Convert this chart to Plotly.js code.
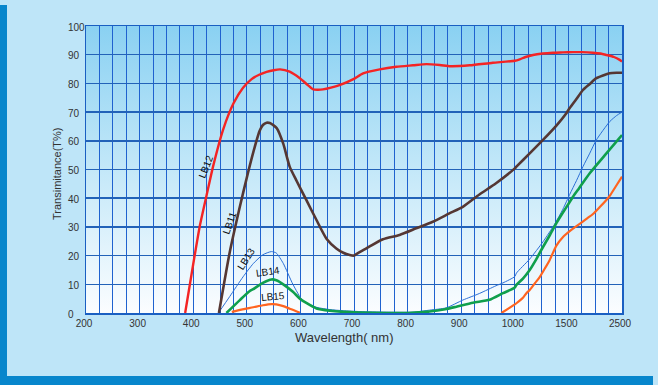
<!DOCTYPE html>
<html><head><meta charset="utf-8">
<script src="https://cdn.plot.ly/plotly-3.0.1.min.js"></script>
<style>
html,body{margin:0;padding:0;background:#bee5f8;overflow:hidden}
#wrap{position:relative;width:658px;height:385px;background:#bee5f8}
#lbar{position:absolute;left:0;top:5px;width:7px;height:380px;background:#0786cc}
#bbar{position:absolute;left:0;top:376px;width:653px;height:9px;background:#0786cc}
#grad{position:absolute;left:86px;top:26px;width:536px;height:287px;background:linear-gradient(#8ad1f2,#c9eaf9 55%,#fbfdff)}
#chart{position:absolute;left:0;top:0;width:658px;height:385px}
</style></head>
<body><div id="wrap"><div id="lbar"></div><div id="bbar"></div><div id="grad"></div><div id="chart"></div></div>
<script>
// Tick labels of the (piecewise) wavelength axis
const xTickLabels = [200,300,400,500,600,700,800,900,1000,1500,2500];
const yTicks = [0,10,20,30,40,50,60,70,80,90,100];

// LB12 (red)
const lb12W = [385,400,412,425,437,456,475,493,509,523,537,550,562,580,599,614,624,633,642,657,673,698,717,748,779,810,835,860,880,916,959,1000,1046,1100,1170,1260,1356,1450,1586,1750,1959,2100,2209,2350,2457,2500];
const lb12T = [0,17,30,41,51,64,73,78.5,81.5,83,84,84.6,84.9,84.1,81.8,79.4,77.9,77.8,77.9,78.5,79.4,81.4,83.5,84.9,85.8,86.3,86.7,86.4,86.0,86.3,87.2,87.9,88.4,89.2,89.9,90.4,90.7,90.8,90.9,90.9,90.7,90.4,89.9,89.2,88.2,87.6];

// LB11 (brown)
const lb11W = [448,468,487,502,515,524,530,537,543,549,556,568,580,593,611,630,649,667,680,692,700,705,723,754,785,816,847,878,903,934,965,1000,1015,1139,1263,1388,1481,1524,1640,1772,1900,2022,2271,2400,2500];
const lb11T = [0,21,37,48.7,58,63.5,65.5,66.3,66.2,65.5,64.4,59,51,46,39.4,32.4,25.8,22.5,21,20.2,20,20.6,22.5,25.7,27.2,29.5,31.8,34.7,37,41.3,45.2,50.4,51,55.6,60.3,65.3,69.6,71.4,74.3,77.7,79.8,81.8,83.5,83.7,83.7];

// LB13 (thin blue)
const lb13W = [447,468,493,512,530,546,555,568,586,605,630,655,680,711,760,810,841,872,903,934,965,978,1000,1015,1139,1263,1372,1449,1524,1650,1772,1900,2022,2271,2400,2500];
const lb13T = [0,5.7,12.6,17.2,20.3,21.4,20.9,17.3,10,4.2,2,1.2,0.8,0.5,0.3,0.3,1,1.8,4.5,6.8,9.5,10.5,12.7,13.9,18.8,24.8,31,36.2,41.3,46.1,51,55.7,60.3,66.7,68.8,70];

// LB14 (green)
const lb14W = [462,487,505,512,530,546,555,568,586,599,611,630,655,680,711,760,800,841,870,891,922,953,978,1000,1015,1076,1139,1201,1263,1325,1388,1449,1512,1586,1700,1898,2209,2500];
const lb14T = [0,4.5,7.6,8.3,10.5,11.7,11.4,10,7.4,5,3.5,1.6,0.8,0.4,0.2,0,0,0.5,1.3,2.2,3.6,4.6,6.9,8.9,9.8,12,15,18.8,23,27,31.3,35,38.3,40.5,43.5,48.7,55.6,62];

// LB15 (orange), two bands
const lb15aW = [472,490,512,530,546,555,568,580,590,599];
const lb15aT = [0.4,1.2,2.0,2.7,3.1,3.0,2.4,1.5,0.8,0.1];
const lb15bW = [975,1000,1015,1076,1108,1139,1190,1232,1280,1326,1388,1450,1524,1630,1743,1850,1959,2090,2209,2271,2380,2500];
const lb15bT = [0,3.0,3.4,5.3,6.9,8,10.5,12.5,15.5,18.5,23.5,26.5,28.5,30,31.5,33,34.5,37,39.4,40.8,44,47.5];

// piecewise wavelength scale: 200-1000 (25 nm/div), 1000-1500 (125 nm/div), 1500-2500 (250 nm/div)
function u(w){ return w<=1000 ? (w-200)/25 : (w<=1500 ? 32+(w-1000)/125 : 36+(w-1500)/250); }

const tickvals = [], ticktext = [];
for (let k=0;k<=40;k++){ tickvals.push(k); ticktext.push(''); }
xTickLabels.forEach(w=>{ ticktext[Math.round(u(w))] = String(w); });

function tr(W,T,color,width){
  return {x:W.map(u), y:T, mode:'lines', type:'scatter', hoverinfo:'skip',
    line:{color:color,width:width,shape:'spline',smoothing:0.6}};
}
const data = [
  tr(lb13W,lb13T,'#2b6fd6',1),
  tr(lb14W,lb14T,'#0f9f4c',2.6),
  tr(lb15aW,lb15aT,'#ff6420',2.2),
  tr(lb15bW,lb15bT,'#ff6420',2.2),
  tr(lb11W,lb11T,'#553733',2.6),
  tr(lb12W,lb12T,'#f42424',2.4)
];

const F = 'Liberation Sans, Arial, sans-serif';
function lab(t,w,T,ang){ return {text:t,x:u(w),y:T,xref:'x',yref:'y',showarrow:false,textangle:ang,
  font:{family:F,size:10,color:'#111'}}; }

const annotations = [
  {text:'Wavelength( nm)', xref:'paper', yref:'paper', x:0.4832, y:-0.0871, showarrow:false,
   xanchor:'center', yanchor:'middle', font:{family:F,size:13,color:'#333'}},
  {text:'Transimitance(T%)', xref:'paper', yref:'paper', x:-0.0541, y:0.4843, showarrow:false,
   textangle:-90, xanchor:'center', yanchor:'middle', font:{family:F,size:11,color:'#333'}},
  lab('LB12',424,51,-68),
  lab('LB11',467,31.3,-71),
  lab('LB13',499,19,-58),
  lab('LB14',539.8,14.4,-8),
  lab('LB15',549,5.9,-5)
];
// left-aligned y tick labels
yTicks.forEach(v=>annotations.push({text:String(v), xref:'paper', yref:'y', x:-0.0373, y:v,
  xanchor:'left', yanchor:'middle', yshift:-1, showarrow:false, font:{family:F,size:10,color:'#333'}}));

const layout = {
  width:658, height:385, margin:{l:86,r:36,t:26,b:72},
  paper_bgcolor:'rgba(0,0,0,0)', plot_bgcolor:'rgba(0,0,0,0)',
  showlegend:false, font:{family:F,size:10,color:'#333'},
  xaxis:{range:[0,40], tickmode:'array', tickvals:tickvals, ticktext:ticktext,
    showgrid:true, gridcolor:'#1f62cf', gridwidth:1, zeroline:false,
    showline:true, linecolor:'#1a5fc2', linewidth:1.5, mirror:true, ticks:'',
    ticklabelshift:-2, tickfont:{family:F,size:10,color:'#333'}, fixedrange:true},
  yaxis:{range:[0,100], tickmode:'array', tickvals:yTicks, showticklabels:false,
    showgrid:true, gridcolor:'#2262b8', gridwidth:1.5, zeroline:false,
    showline:true, linecolor:'#1a5fc2', linewidth:1.5, mirror:true, ticks:'', fixedrange:true},
  annotations:annotations
};
Plotly.newPlot('chart', data, layout, {staticPlot:true, displayModeBar:false});
</script></body></html>
